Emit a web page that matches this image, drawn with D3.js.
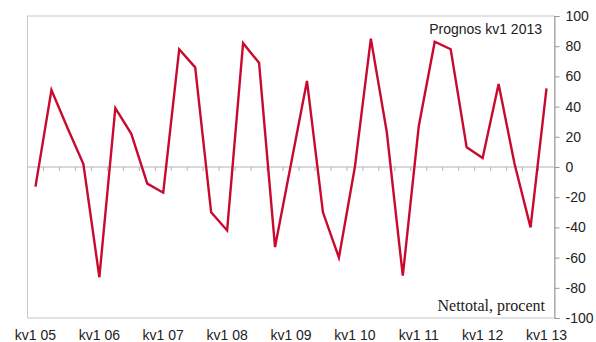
<!DOCTYPE html>
<html>
<head>
<meta charset="utf-8">
<script src="https://cdn.jsdelivr.net/npm/d3@7"></script>
<style>
  html, body { margin: 0; padding: 0; background: #fff; }
  svg { display: block; }
</style>
</head>
<body>
<svg id="chart" width="596" height="342"></svg>
<script>
// Quarterly net balance, kv1 2005 – kv1 2013
const quarters = [
  "kv1 05","kv2 05","kv3 05","kv4 05",
  "kv1 06","kv2 06","kv3 06","kv4 06",
  "kv1 07","kv2 07","kv3 07","kv4 07",
  "kv1 08","kv2 08","kv3 08","kv4 08",
  "kv1 09","kv2 09","kv3 09","kv4 09",
  "kv1 10","kv2 10","kv3 10","kv4 10",
  "kv1 11","kv2 11","kv3 11","kv4 11",
  "kv1 12","kv2 12","kv3 12","kv4 12",
  "kv1 13"
];
const nettotal = [
  -13, 51, 26, 2,
  -73, 39, 22, -11,
  -17, 78, 66, -30,
  -42, 82, 69, -53,
  2, 57, -30, -60,
  0, 85, 23, -72,
  27, 83, 78, 13,
  6, 55, 2, -40,
  52
];
const yTicks = [100, 80, 60, 40, 20, 0, -20, -40, -60, -80, -100];
const xLabels = ["kv1 05","kv1 06","kv1 07","kv1 08","kv1 09","kv1 10","kv1 11","kv1 12","kv1 13"];

const svg = d3.select("#chart");
const plot = { left: 27.5, right: 554.5, top: 16, bottom: 318 };
const sans = "Liberation Sans, Arial, sans-serif";

const x = d3.scaleBand().domain(quarters).range([plot.left, plot.right]).padding(0);
const y = d3.scaleLinear().domain([-100, 100]).range([plot.bottom, plot.top]);
const cx = q => x(q) + x.bandwidth() / 2;

// plot frame
svg.append("rect")
  .attr("x", plot.left).attr("y", plot.top)
  .attr("width", plot.right - plot.left).attr("height", plot.bottom - plot.top)
  .attr("fill", "none").attr("stroke", "#c8c8c8").attr("stroke-width", 1);

// zero line with quarter ticks
const zg = svg.append("g").attr("transform", `translate(0,${y(0)})`);
zg.append("line")
  .attr("x1", plot.left).attr("x2", plot.right)
  .attr("stroke", "#b4b4b4").attr("stroke-width", 1);
zg.selectAll("line.qt")
  .data(quarters.slice(1))
  .join("line").attr("class", "qt")
  .attr("x1", q => x(q)).attr("x2", q => x(q))
  .attr("y1", 0).attr("y2", 4)
  .attr("stroke", "#b4b4b4").attr("stroke-width", 1);

// right value axis (plain hyphen for negatives)
const yAxis = d3.axisRight(y).tickValues(yTicks).tickSize(5).tickPadding(6).tickFormat(d => String(d));
const ya = svg.append("g").attr("transform", `translate(${plot.right},0)`).call(yAxis);
ya.select(".domain").attr("stroke", "#999");
ya.selectAll(".tick line").attr("stroke", "#999");
ya.selectAll(".tick text")
  .attr("fill", "#222")
  .style("font-family", sans)
  .style("font-size", "14px");

// quarter labels along bottom
const xAxis = d3.axisBottom(x).tickValues(xLabels).tickSize(0).tickPadding(0);
const xa = svg.append("g").attr("transform", `translate(0,${plot.bottom})`).call(xAxis);
xa.select(".domain").remove();
xa.selectAll(".tick text")
  .attr("y", 22).attr("dy", 0)
  .attr("fill", "#222")
  .style("font-family", sans)
  .style("font-size", "14px");

// series line
const line = d3.line()
  .x((d, i) => cx(quarters[i]))
  .y(d => y(d));
svg.append("path")
  .datum(nettotal)
  .attr("d", line)
  .attr("fill", "none")
  .attr("stroke", "#c80a2e")
  .attr("stroke-width", 2.4)
  .attr("stroke-linejoin", "miter");

// annotations
svg.append("text")
  .attr("x", 542).attr("y", 34)
  .attr("text-anchor", "end")
  .attr("fill", "#222")
  .style("font-family", sans)
  .style("font-size", "14px")
  .text("Prognos kv1 2013");

svg.append("text")
  .attr("x", 545).attr("y", 311)
  .attr("text-anchor", "end")
  .attr("fill", "#222")
  .style("font-family", "Liberation Serif, Times New Roman, serif")
  .style("font-size", "16px")
  .text("Nettotal, procent");
</script>
</body>
</html>
